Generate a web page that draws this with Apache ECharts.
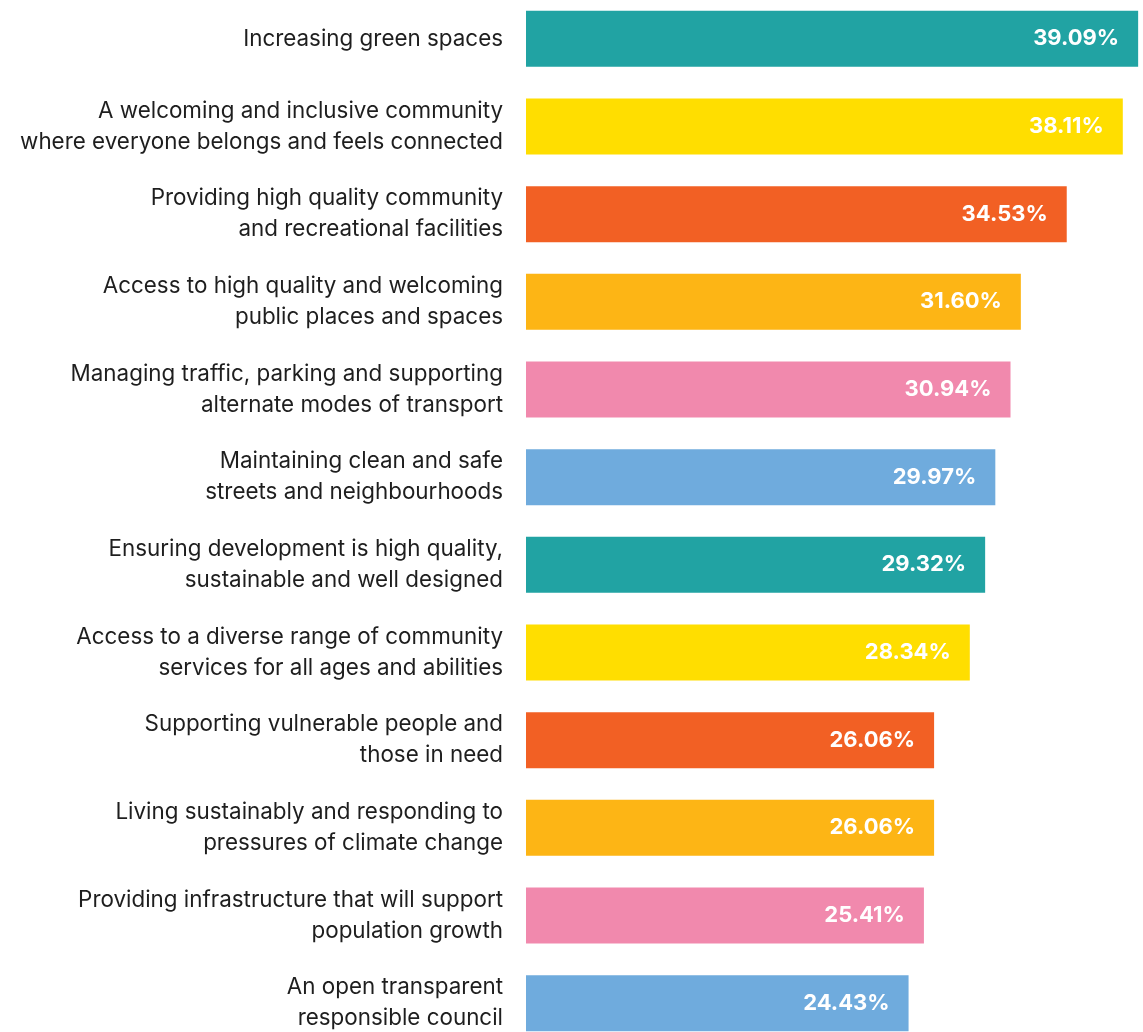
<!DOCTYPE html>
<html>
<head>
<meta charset="utf-8">
<script src="https://cdn.jsdelivr.net/npm/echarts@6/dist/echarts.min.js"></script>
<style>
html,body{margin:0;padding:0;background:#fff;overflow:hidden;}
#chart{position:absolute;left:0;top:-5px;width:1143px;height:1052px;}
</style>
</head>
<body>
<div id="chart"></div>
<script>
const categories = [
  "Increasing green spaces",
  "A welcoming and inclusive community\nwhere everyone belongs and feels connected",
  "Providing high quality community\nand recreational facilities",
  "Access to high quality and welcoming\npublic places and spaces",
  "Managing traffic, parking and supporting\nalternate modes of transport",
  "Maintaining clean and safe\nstreets and neighbourhoods",
  "Ensuring development is high quality,\nsustainable and well designed",
  "Access to a diverse range of community\nservices for all ages and abilities",
  "Supporting vulnerable people and\nthose in need",
  "Living sustainably and responding to\npressures of climate change",
  "Providing infrastructure that will support\npopulation growth",
  "An open transparent\nresponsible council"
];
const values = [39.09, 38.11, 34.53, 31.60, 30.94, 29.97, 29.32, 28.34, 26.06, 26.06, 25.41, 24.43];
const colors = ["#21A3A3", "#FFDE00", "#F26024", "#FDB515", "#F189AD", "#6FABDD",
                "#21A3A3", "#FFDE00", "#F26024", "#FDB515", "#F189AD", "#6FABDD"];

const chart = echarts.init(document.getElementById('chart'));
chart.setOption({
  animation: false,
  grid: { left: 526, right: 0, top: 0, bottom: 0, containLabel: false },
  xAxis: { type: 'value', min: 0, max: 39.4, show: false, splitLine: { show: false } },
  yAxis: {
    type: 'category', data: categories, inverse: true,
    axisLine: { show: false }, axisTick: { show: false },
    axisLabel: {
      margin: 23, fontSize: 22.4, lineHeight: 31, color: '#1e1e1e',
      fontFamily: 'Inter', align: 'right'
    }
  },
  series: [{
    type: 'bar', barWidth: 56,
    data: values.map((v, i) => ({ value: v, itemStyle: { color: colors[i] } })),
    label: {
      show: true, position: 'insideRight', distance: 19,
      color: '#fff', fontWeight: 'bold', fontSize: 22, fontFamily: 'Inter',
      formatter: p => p.value.toFixed(2) + '%'
    }
  }]
});
</script>
</body>
</html>
